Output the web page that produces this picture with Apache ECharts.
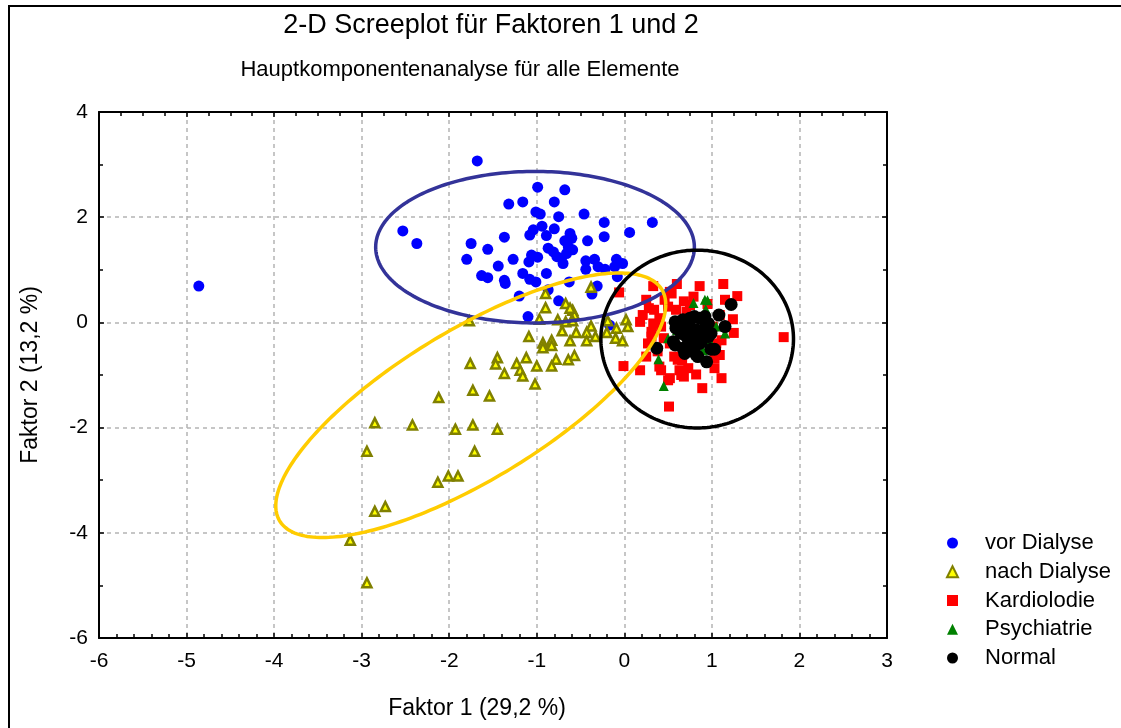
<!DOCTYPE html>
<html>
<head>
<meta charset="utf-8">
<script src="https://cdn.jsdelivr.net/npm/echarts@6/dist/echarts.min.js"></script>
<style>html,body{margin:0;padding:0;background:#fff;}#c{width:1121px;height:728px;}</style>
</head>
<body>
<div id="c"></div>
<script>
const seriesNames = ['vor Dialyse', 'nach Dialyse', 'Kardiolodie', 'Psychiatrie', 'Normal'];
const xTicks = [-6, -5, -4, -3, -2, -1, 0, 1, 2, 3];
const yTicks = [-6, -4, -2, 0, 2, 4];

const vorDialyse = [
 [-4.86,0.69],[-1.68,3.07],[-0.99,2.57],[-0.68,2.52],[-1.32,2.25],[-1.16,2.29],[-0.80,2.29],
 [-1.01,2.10],[-0.96,2.06],[-0.75,2.01],[-0.46,2.06],[-0.23,1.90],[0.32,1.90],
 [-2.53,1.74],[-2.37,1.50],[-1.75,1.50],[-1.56,1.39],[-1.80,1.20],[-1.37,1.62],[-1.27,1.20],[-1.44,1.07],
 [-1.63,0.89],[-1.56,0.85],[-1.37,0.80],[-1.36,0.74],[-1.16,0.93],[-1.08,0.82],[-1.01,0.77],[-0.89,0.93],
 [-0.94,1.83],[-1.04,1.76],[-1.08,1.66],[-0.80,1.78],[-0.89,1.65],[-1.06,1.28],[-0.99,1.24],[-1.09,1.15],
 [-0.87,1.41],[-0.81,1.34],[-0.77,1.25],[-0.70,1.12],[-0.66,1.31],[-0.62,1.69],[-0.60,1.60],[-0.59,1.38],
 [-0.64,1.44],[-0.68,1.55],[-0.72,1.22],[-0.42,1.55],[-0.23,1.63],[0.06,1.71],[-0.44,1.17],[-0.34,1.20],
 [-0.44,1.01],[-0.30,1.06],[-0.22,1.01],[-0.09,1.20],[-0.02,1.12],[-0.11,1.06],[-0.08,0.87],[-0.63,0.77],
 [-0.87,0.62],[-1.20,0.50],[-0.75,0.41],[-0.37,0.54],[-0.31,0.69],[-1.10,0.11],[-0.17,-0.05]
];
const nachDialyse = [
 [-0.38,0.67],[-0.90,0.55],[-0.90,0.28],[-0.67,0.36],[-0.59,0.23],[-0.57,0.14],[-0.62,0.27],
 [-1.77,0.03],[-0.97,0.06],[-0.76,0.05],[-0.67,0.01],[-0.59,0.03],[-0.38,-0.07],[-0.19,0.03],[-0.09,-0.11],[0.02,0.05],[0.04,-0.08],
 [-1.09,-0.27],[-0.71,-0.16],[-0.55,-0.19],[-0.43,-0.19],[-0.33,-0.27],[-0.20,-0.19],[-0.10,-0.30],[-0.02,-0.35],
 [-0.93,-0.39],[-0.93,-0.48],[-0.83,-0.34],[-0.83,-0.44],[-0.62,-0.35],[-0.43,-0.35],
 [-1.76,-0.78],[-1.45,-0.67],[-1.47,-0.79],[-1.23,-0.78],[-1.12,-0.67],[-1.00,-0.83],[-0.78,-0.70],[-0.83,-0.83],[-0.57,-0.63],[-0.64,-0.71],
 [-1.37,-0.97],[-1.19,-0.91],[-1.16,-1.02],[-1.02,-1.17],[-1.73,-1.29],[-1.54,-1.40],[-2.12,-1.43],
 [-2.85,-1.91],[-2.42,-1.95],[-1.93,-2.03],[-1.73,-1.95],[-1.45,-2.03],[-2.94,-2.45],[-1.71,-2.45],
 [-2.13,-3.04],[-2.01,-2.92],[-1.90,-2.92],[-2.85,-3.59],[-2.73,-3.50],[-3.13,-4.14],[-2.94,-4.95]
];
const kardiolodie = [
 [-0.06,0.57],[0.33,0.69],[0.60,0.73],[0.86,0.69],[1.13,0.73],[1.29,0.50],[1.15,0.43],
 [0.25,0.43],[0.28,0.27],[0.46,0.43],[0.54,0.55],[0.79,0.49],[0.75,0.33],
 [0.18,0.01],[0.33,-0.02],[0.31,-0.27],[0.40,0.08],[0.42,-0.08],[1.24,0.06],[1.25,-0.20],[1.82,-0.28],
 [-0.01,-0.83],[0.18,-0.91],[0.25,-0.65],[0.40,-0.84],[0.42,-0.91],[0.52,-1.06],[0.50,-1.10],
 [0.63,-0.91],[0.65,-1.00],[0.68,-1.03],[0.82,-0.99],[1.03,-0.87],[1.11,-1.06],[0.89,-1.25],[0.51,-1.60],
 [0.57,-0.65],[0.61,-0.71],[0.52,-0.40],[1.05,-0.40],[1.11,-0.34],[1.09,0.14],[1.01,-0.08],
 [0.27,-0.40],[0.31,-0.18],[0.21,0.14],[0.34,0.24],[0.50,0.30],[0.59,0.24],[0.52,0.58],[0.71,0.20],
 [0.66,-0.72],[0.73,-0.87],[1.03,-0.68],[1.09,-0.62],[0.95,0.35],[0.68,0.40],[0.45,-0.30],[0.38,-0.55]
];
const psychiatrie = [
 [0.79,0.37],[0.92,0.43],[0.95,0.42],[0.93,0.25],[1.05,-0.08],[1.15,-0.21],[0.50,-0.30],
 [0.39,-0.70],[0.45,-1.21],[0.75,-0.49],[0.90,-0.53],[0.98,-0.37],[0.60,-0.15],[0.85,-0.20]
];
const normal = [
 [1.22,0.34],[1.08,0.14],[1.15,-0.08],[0.37,-0.49],[0.94,-0.75],
 [0.58,0.01],[0.59,-0.11],[0.56,-0.37],[0.58,-0.43],[0.67,-0.49],[0.69,-0.59],[0.82,-0.62],[0.84,-0.65],[0.99,-0.51],[1.03,-0.51],
 [0.67,0.05],[0.75,0.08],[0.80,0.11],[0.86,0.08],[0.92,0.11],[0.96,-0.02],[0.92,-0.11],[0.75,-0.08],[0.79,-0.18],[0.71,-0.27],[0.75,-0.30],
 [0.86,-0.27],[0.88,-0.37],[0.96,-0.27],[0.99,-0.21],[0.82,-0.14],[0.86,-0.40],[0.63,-0.08],[0.65,-0.21],[0.77,-0.46],[0.82,-0.43]
];

// confidence ellipses: centre, half extents along x and y, phase between x and y (deg)
const ellipseCenters = [[-1.02,1.43],[-1.754,-1.575],[0.832,-0.316]];
const ellipseExtents = [[1.82,1.44],[2.227,2.515],[1.10,1.69]];
const ellipsePhase = [90, 40.5, 90];
const ellipseColors = ['#333399', '#FFCC00', '#000000'];

const FONT = '"Liberation Sans", Arial, sans-serif';
const chart = echarts.init(document.getElementById('c'), null, {renderer: 'canvas'});

function mkAxis(pos, isX, main) {
  const a = {
    type: 'value', position: pos,
    min: isX ? xTicks[0] : yTicks[0], max: isX ? xTicks[xTicks.length-1] : yTicks[yTicks.length-1],
    interval: isX ? 1 : 2,
    axisLine: {show: true, onZero: false, lineStyle: {color: '#000', width: 2}},
    axisTick: {show: true, inside: true, length: 5, lineStyle: {color: '#000', width: 1.5}},
    minorTick: {show: true, splitNumber: isX ? (pos === 'top' ? 4 : 5) : 2, length: 4, lineStyle: {color: '#000', width: 1.5}},
    axisLabel: {show: main, color: '#000', fontSize: 21, fontFamily: FONT, margin: isX ? 13 : 11},
    splitLine: {show: main, lineStyle: {color: '#b4b4b4', type: [4, 4], width: 1.5}}
  };
  if (main) {
    a.nameLocation = 'middle';
    if (isX) {
      a.name = 'Faktor 1 (29,2 %)'; a.nameGap = 59;
      a.nameTextStyle = {color: '#000', fontSize: 23, fontFamily: FONT, padding: [0, 32, 0, 0]};
    } else {
      a.name = 'Faktor 2 (13,2 %)'; a.nameGap = 57;
      a.nameTextStyle = {color: '#000', fontSize: 23, fontFamily: FONT};
    }
  }
  return a;
}

const option = {
  backgroundColor: '#fff',
  animation: false,
  grid: {left: 99, top: 112, width: 788, height: 526, containLabel: false},
  xAxis: [mkAxis('bottom', true, true), mkAxis('top', true, false)],
  yAxis: [mkAxis('left', false, true), mkAxis('right', false, false)],
  legend: {
    orient: 'vertical', left: 941, top: 527, itemWidth: 11, itemHeight: 11, itemGap: 6.75,
    data: seriesNames,
    textStyle: {color: '#000', fontSize: 22, lineHeight: 22, fontFamily: FONT, padding: [0, 0, 0, 22]}
  },
  graphic: [
    {type: 'rect', z: -10, silent: true, shape: {x: 9, y: 6, width: 1300, height: 900}, style: {fill: null, stroke: '#000', lineWidth: 2}},
    {type: 'text', x: 491, y: 26, style: {text: '2-D Screeplot für Faktoren 1 und 2', fill: '#000', font: '27px ' + FONT, textAlign: 'center', textVerticalAlign: 'middle'}},
    {type: 'text', x: 460, y: 70, style: {text: 'Hauptkomponentenanalyse für alle Elemente', fill: '#000', font: '22px ' + FONT, textAlign: 'center', textVerticalAlign: 'middle'}}
  ],
  series: [
    {name: seriesNames[0], type: 'scatter', data: vorDialyse, symbol: 'circle', symbolSize: 11, itemStyle: {color: '#0000FF', opacity: 1}, z: 2},
    {name: seriesNames[1], type: 'scatter', data: nachDialyse, symbol: 'triangle', symbolSize: 9, itemStyle: {color: '#FFFF00', borderColor: '#808000', borderWidth: 2.5, opacity: 1}, z: 2},
    {name: seriesNames[2], type: 'scatter', data: kardiolodie, symbol: 'rect', symbolSize: 10, itemStyle: {color: '#FF0000', opacity: 1}, z: 2},
    {name: seriesNames[3], type: 'scatter', data: psychiatrie, symbol: 'triangle', symbolSize: 10, itemStyle: {color: '#008000', opacity: 1}, z: 2},
    {name: seriesNames[4], type: 'scatter', data: normal, symbol: 'circle', symbolSize: 13, itemStyle: {color: '#000000', opacity: 1}, z: 2},
    {
      type: 'custom', coordinateSystem: 'cartesian2d', silent: true, z: 5,
      data: ellipseCenters.map((c, i) => [c[0], c[1], ellipseExtents[i][0], ellipseExtents[i][1], ellipsePhase[i]]),
      encode: {x: 0, y: 1},
      renderItem: function (params, api) {
        const cx = api.value(0), cy = api.value(1), rx = api.value(2), ry = api.value(3);
        const ph = api.value(4) * Math.PI / 180;
        const pts = [];
        for (let k = 0; k <= 240; k++) {
          const t = k / 240 * 2 * Math.PI;
          pts.push(api.coord([cx + rx * Math.cos(t), cy + ry * Math.cos(t + ph)]));
        }
        return {type: 'polyline', shape: {points: pts}, style: {stroke: ellipseColors[params.dataIndex], lineWidth: 3.5, fill: null}};
      }
    }
  ]
};
chart.setOption(option);
</script>
</body>
</html>
